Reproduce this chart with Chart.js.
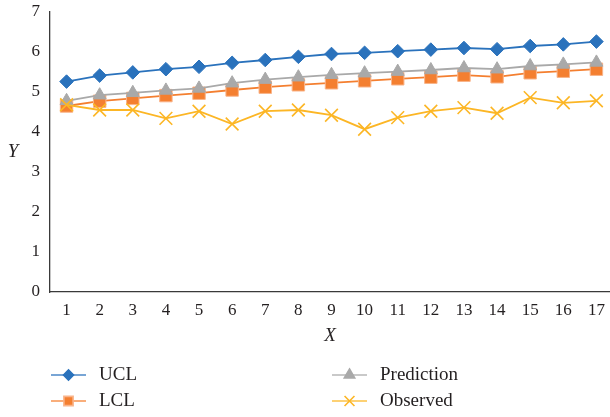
<!DOCTYPE html>
<html>
<head>
<meta charset="utf-8">
<script src="https://cdn.jsdelivr.net/npm/chart.js@4/dist/chart.umd.min.js"></script>
<style>
  html, body { margin: 0; padding: 0; background: #fff; overflow: hidden; }
  #wrap { width: 610px; height: 417px; }
</style>
</head>
<body>
<div id="wrap"><canvas id="c" width="610" height="417"></canvas></div>
<script>
// Sample index along the horizontal axis
const categories = [1, 2, 3, 4, 5, 6, 7, 8, 9, 10, 11, 12, 13, 14, 15, 16, 17];

// Control limits, model prediction and observed values
const ucl        = [5.26, 5.41, 5.49, 5.57, 5.63, 5.73, 5.80, 5.88, 5.95, 5.98, 6.02, 6.06, 6.10, 6.07, 6.15, 6.19, 6.26];
const prediction = [4.78, 4.92, 4.98, 5.04, 5.09, 5.22, 5.31, 5.37, 5.43, 5.47, 5.51, 5.55, 5.60, 5.57, 5.65, 5.69, 5.74];
const lcl        = [4.65, 4.77, 4.84, 4.91, 4.97, 5.05, 5.12, 5.18, 5.23, 5.28, 5.33, 5.37, 5.42, 5.38, 5.48, 5.52, 5.57];
const observed   = [4.68, 4.55, 4.55, 4.34, 4.52, 4.20, 4.52, 4.55, 4.42, 4.07, 4.36, 4.52, 4.61, 4.47, 4.86, 4.73, 4.78];

const yTicks = [0, 1, 2, 3, 4, 5, 6, 7];

const BLUE = '#2A72BC', ORANGE = '#F47F30', GRAY = '#A9A9A9', GOLD = '#FCB625';
const TEXT = '#231F20';
const SERIF = '"Liberation Serif", "DejaVu Serif", serif';

const pts = arr => arr.map((v, i) => ({ x: categories[i], y: v }));

const datasets = [
  { label: 'UCL', data: pts(ucl), borderColor: BLUE, backgroundColor: BLUE,
    pointStyle: 'rectRot', pointRadius: 6.8, pointBorderColor: BLUE, pointBorderWidth: 1,
    borderWidth: 1.8, order: 3 },
  { label: 'Prediction', data: pts(prediction), borderColor: GRAY, backgroundColor: GRAY,
    pointStyle: 'triangle', pointRadius: 7.5, pointBorderColor: GRAY, pointBorderWidth: 1,
    borderWidth: 1.8, order: 1 },
  { label: 'LCL', data: pts(lcl), borderColor: ORANGE, backgroundColor: ORANGE,
    pointStyle: 'rect', pointRadius: 8.8, pointBorderColor: '#F9B48A', pointBorderWidth: 1,
    borderWidth: 1.8, order: 2 },
  { label: 'Observed', data: pts(observed), borderColor: GOLD, backgroundColor: GOLD,
    pointStyle: 'crossRot', pointRadius: 9, pointBorderColor: GOLD, pointBorderWidth: 1.6,
    borderWidth: 1.8, order: 0 }
];

// Upright "Y" axis title and the two-column legend below the plot
const extras = {
  id: 'extras',
  afterDraw(chart) {
    const ctx = chart.ctx;
    ctx.save();
    ctx.fillStyle = TEXT;
    ctx.font = 'italic 19px ' + SERIF;
    ctx.textAlign = 'center';
    ctx.textBaseline = 'middle';
    ctx.fillText('Y', 13, 152);

    const slots = [
      { ds: 0, x0: 51, x1: 86, y: 375 },
      { ds: 1, x0: 332, x1: 367, y: 375 },
      { ds: 2, x0: 51, x1: 86, y: 401 },
      { ds: 3, x0: 332, x1: 367, y: 401 }
    ];
    const legendRadius = { rectRot: 5, triangle: 6, rect: 6.5, crossRot: 7 };
    slots.forEach(s => {
      const d = chart.data.datasets[s.ds];
      ctx.strokeStyle = d.borderColor;
      ctx.globalAlpha = 0.85;
      ctx.lineWidth = 1.6;
      ctx.beginPath();
      ctx.moveTo(s.x0, s.y);
      ctx.lineTo(s.x1, s.y);
      ctx.stroke();
      ctx.globalAlpha = 1;
      ctx.fillStyle = d.backgroundColor;
      ctx.strokeStyle = d.pointBorderColor;
      Chart.helpers.drawPoint(ctx, {
        pointStyle: d.pointStyle,
        radius: legendRadius[d.pointStyle],
        borderWidth: d.pointStyle === 'crossRot' ? 1.4 : 1,
        rotation: 0
      }, (s.x0 + s.x1) / 2, s.y);
      ctx.fillStyle = TEXT;
      ctx.font = '19px ' + SERIF;
      ctx.textAlign = 'left';
      ctx.textBaseline = 'middle';
      ctx.fillText(d.label, s.x1 + 13, s.y);
    });
    ctx.restore();
  }
};

new Chart(document.getElementById('c'), {
  type: 'line',
  data: { datasets },
  options: {
    responsive: false,
    animation: false,
    events: [],
    layout: { autoPadding: false, padding: { top: 12, right: 0, bottom: 70, left: 0 } },
    plugins: { legend: { display: false }, tooltip: { enabled: false } },
    scales: {
      x: {
        type: 'linear',
        min: 0.5,
        max: 17.41,
        grid: { display: false, drawTicks: false, tickLength: 0 },
        border: { display: true, color: '#3a3a3a', width: 1.3 },
        afterBuildTicks: s => { s.ticks = categories.map(v => ({ value: v })); },
        afterFit: s => { s.height = 55; s.paddingLeft = 0; s.paddingRight = 0; },
        ticks: {
          autoSkip: false, maxRotation: 0, padding: 8, color: TEXT,
          font: { family: SERIF, size: 17 },
          callback: v => String(v)
        },
        title: {
          display: true, text: 'X', color: TEXT,
          font: { family: SERIF, size: 19, style: 'italic' },
          padding: { top: 0, bottom: 0 }
        }
      },
      y: {
        min: 0,
        max: 7,
        grid: { display: false, drawTicks: false, tickLength: 0 },
        border: { display: true, color: '#3a3a3a', width: 1.3 },
        afterBuildTicks: s => { s.ticks = yTicks.map(v => ({ value: v })); },
        afterFit: s => { s.width = 50; s.paddingTop = 0; s.paddingBottom = 0; },
        ticks: {
          padding: 10, color: TEXT,
          font: { family: SERIF, size: 17 },
          callback: v => String(v)
        }
      }
    }
  },
  plugins: [extras]
});
</script>
</body>
</html>
